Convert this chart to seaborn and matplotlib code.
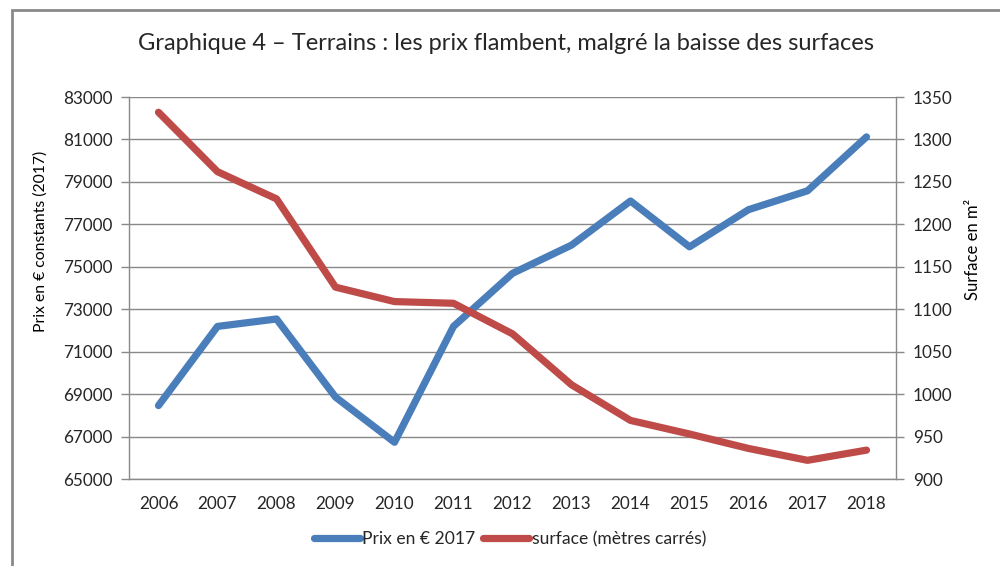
import numpy as np
import pandas as pd
import matplotlib
matplotlib.use("Agg")
import matplotlib.pyplot as plt
import seaborn as sns
from matplotlib.patches import Rectangle

# data
annees = [2006, 2007, 2008, 2009, 2010, 2011, 2012, 2013, 2014, 2015, 2016, 2017, 2018]
prix = [68460, 72190, 72540, 68860, 66730, 72190, 74690, 76020, 78100, 75940, 77690, 78580, 81120]
surface = [1332, 1262, 1230, 1126, 1109, 1107, 1071, 1011, 969, 953, 936, 922, 934]

titre = "Graphique 4 \u2013 Terrains : les prix flambent, malgré la baisse des surfaces"
lab_prix = "Prix en € 2017"
lab_surf = "surface (mètres carrés)"

sns.set_style("white")
plt.rcParams['font.family'] = ['Lato', 'DejaVu Sans']

df = pd.DataFrame({"pos": np.arange(len(annees)), "prix": prix, "surface": surface})

blue = "#4A7EBB"
red = "#BE4B48"
grey = "#898989"

fig = plt.figure(figsize=(10, 5.66), dpi=100)
ax = fig.add_axes([0.129, 1 - 479 / 566, 0.896 - 0.129, (479 - 97) / 566])
ax2 = ax.twinx()

sns.lineplot(data=df, x="pos", y="prix", ax=ax, color=blue, linewidth=5.2,
             label=lab_prix, legend=False, solid_capstyle="round", solid_joinstyle="round")
sns.lineplot(data=df, x="pos", y="surface", ax=ax2, color=red, linewidth=5.2,
             label=lab_surf, legend=False, solid_capstyle="round", solid_joinstyle="round")

ax.set_xlim(-0.5, len(annees) - 0.5)
ax.set_ylim(65000, 83000)
ax.set_yticks(np.arange(65000, 83001, 2000))
ax2.set_ylim(900, 1350)
ax2.set_yticks(np.arange(900, 1351, 50))

ax.set_xticks(np.arange(-0.5, len(annees), 1))
ax.set_xticklabels([])
ax.set_xticks(np.arange(len(annees)), minor=True)
ax.set_xticklabels([str(a) for a in annees], minor=True)
ax.tick_params(axis="x", which="major", length=6, width=1, color=grey, direction="out")
ax.tick_params(axis="x", which="minor", length=0, pad=12, labelsize=12.3, labelcolor="#262626")
ax.tick_params(axis="y", length=6, width=1, color=grey, labelsize=12.3, labelcolor="#262626", pad=6)
ax2.tick_params(axis="y", length=6, width=1, color=grey, labelsize=12.3, labelcolor="#262626", pad=6)

ax.yaxis.grid(True, color=grey, linewidth=1)
ax.set_axisbelow(True)
for a in (ax, ax2):
    for s in a.spines.values():
        s.set_visible(False)
ax.spines["left"].set_visible(True)
ax.spines["bottom"].set_visible(True)
ax2.spines["right"].set_visible(True)
for s in (ax.spines["left"], ax.spines["bottom"], ax2.spines["right"]):
    s.set_color(grey)
    s.set_linewidth(1)

ax.set_xlabel("")
ax.set_ylabel("Prix en € constants (2017)", fontsize=11.3, color="black")
ax.yaxis.set_label_coords(-0.106, 0.623)
ax2.set_ylabel("Surface en m²", fontsize=12, color="black")
ax2.yaxis.set_label_position("right")
ax2.yaxis.set_label_coords(1.09, 0.60)

fig.text(0.506, 1 - 43 / 566, titre, ha="center", va="center", fontsize=17, color="#262626")

h1, l1 = ax.get_legend_handles_labels()
h2, l2 = ax2.get_legend_handles_labels()
fig.legend(h1 + h2, l1 + l2, loc="center", bbox_to_anchor=(0.51, 1 - 539 / 566), ncol=2,
           frameon=False, fontsize=12.6, handlelength=2.6, handletextpad=0.15,
           columnspacing=0.45, labelcolor="#262626")

# outer frame of the chart
fig.patches.append(Rectangle((12 / 1000, -0.05), 1.1, 1.05 - 10 / 566, transform=fig.transFigure,
                             fill=False, edgecolor="#8a8a8a", linewidth=2, clip_on=False))

fig.savefig("out.png", dpi=100)
